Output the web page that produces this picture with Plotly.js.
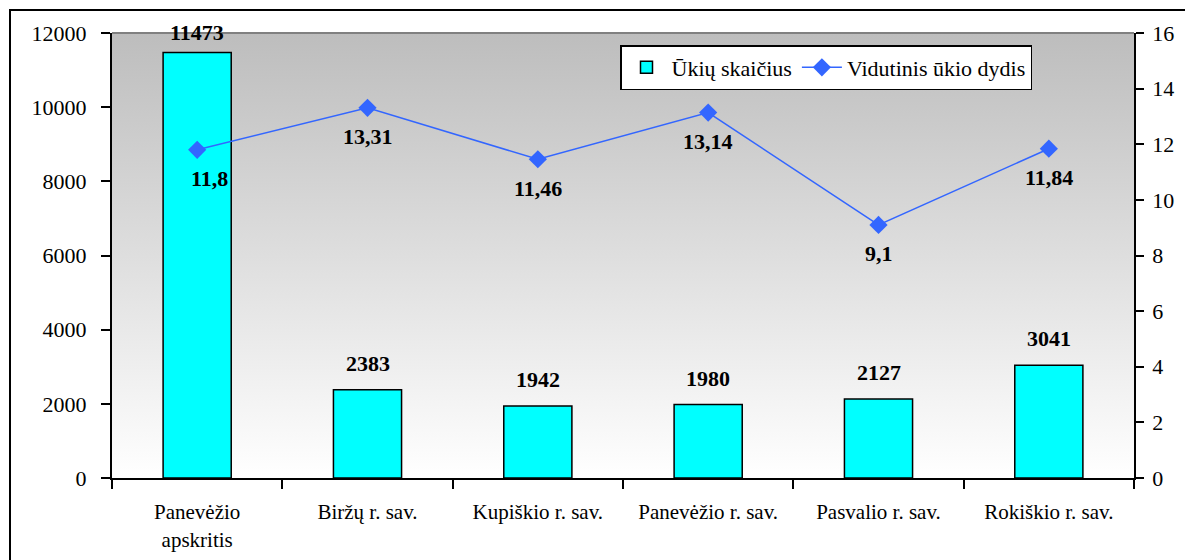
<!DOCTYPE html>
<html>
<head>
<meta charset="utf-8">
<script src="https://cdn.plot.ly/plotly-3.0.1.min.js"></script>
</head>
<body style="margin:0">
<div id="chart"></div>
<script>
const categories = ["Panevėžio<br>apskritis", "Biržų r. sav.", "Kupiškio r. sav.", "Panevėžio r. sav.", "Pasvalio r. sav.", "Rokiškio r. sav."];
const farmCounts = [11473, 2383, 1942, 1980, 2127, 3041];
const avgSize = [11.8, 13.31, 11.46, 13.14, 9.1, 11.84];
const avgSizeLabels = ["11,8", "13,31", "11,46", "13,14", "9,1", "11,84"];
const leftTicks = [0, 2000, 4000, 6000, 8000, 10000, 12000];
const rightTicks = [0, 2, 4, 6, 8, 10, 12, 14, 16];

const W = 1185, H = 560;
const M = {l: 112, r: 51, t: 33, b: 82};
const pw = W - M.l - M.r, ph = H - M.t - M.b;
const px = v => (v - M.l) / pw;
const py = v => (H - M.b - v) / ph;

const SERIF = "Liberation Serif";

const background = {
  type: 'scatter', x: [0, 1, 1, 0, 0], y: [0, 0, 1, 1, 0], xaxis: 'x', yaxis: 'y',
  mode: 'none', fill: 'toself',
  fillgradient: {type: 'vertical', start: 0, stop: 1, colorscale: [[0, '#ffffff'], [1, '#bdbdbd']]},
  showlegend: false, hoverinfo: 'skip'
};
const bars = {
  type: 'bar', x: categories, y: farmCounts, name: 'Ūkių skaičius', xaxis: 'x2', yaxis: 'y2',
  width: 0.4,
  marker: {color: '#00FFFF', line: {color: '#000000', width: 1.5}},
  hoverinfo: 'skip'
};
const line = {
  type: 'scatter', mode: 'lines+markers', x: categories, y: avgSize, xaxis: 'x2', yaxis: 'y3',
  name: 'Vidutinis ūkio dydis',
  line: {color: '#3366FF', width: 1.5},
  marker: {symbol: 'diamond', size: 14, color: '#3366FF'},
  hoverinfo: 'skip'
};

const annotations = [];
farmCounts.forEach((v, i) => {
  annotations.push({x: categories[i], y: v, xref: 'x2', yref: 'y2', text: '<b>' + v + '</b>',
    showarrow: false, yanchor: 'bottom', yshift: i === 0 ? 6 : 12,
    font: {family: SERIF, size: 22, color: 'black'}});
});
avgSize.forEach((v, i) => {
  annotations.push({x: categories[i], y: v, xref: 'x2', yref: 'y3', text: '<b>' + avgSizeLabels[i] + '</b>',
    showarrow: false, yanchor: 'middle', yshift: -29, xshift: i === 0 ? 12 : 0,
    font: {family: SERIF, size: 22, color: 'black'}});
});

const layout = {
  width: W, height: H,
  margin: M,
  paper_bgcolor: 'white', plot_bgcolor: 'rgba(0,0,0,0)',
  font: {family: SERIF, size: 21, color: 'black'},
  showlegend: true,
  legend: {orientation: 'h', x: px(1032), xanchor: 'right', y: py(45), yanchor: 'top',
    bgcolor: 'white', bordercolor: 'black', borderwidth: 1.5, itemwidth: 40,
    font: {family: SERIF, size: 22, color: 'black'}, traceorder: 'normal'},
  bargap: 0.6,
  xaxis: {range: [0, 1], visible: false, fixedrange: true},
  yaxis: {range: [0, 1], visible: false, fixedrange: true},
  xaxis2: {type: 'category', overlaying: 'x', side: 'bottom', showline: true, linecolor: 'black', linewidth: 2,
    ticks: 'outside', ticklen: 9, tickwidth: 1.5, tickcolor: 'black', tickson: 'boundaries',
    showgrid: false, zeroline: false, ticklabelstandoff: 14,
    tickfont: {family: SERIF, size: 21, color: 'black'}},
  yaxis2: {range: [0, 12000], overlaying: 'y', side: 'left', tickvals: leftTicks, ticktext: leftTicks.map(String),
    showline: true, linecolor: 'black', linewidth: 2, ticks: 'outside', ticklen: 9, tickwidth: 2, tickcolor: 'black',
    showgrid: false, zeroline: false, ticklabelstandoff: 10,
    tickfont: {family: SERIF, size: 22, color: 'black'}},
  yaxis3: {range: [0, 16], tickvals: rightTicks, ticktext: rightTicks.map(String), overlaying: 'y', side: 'right',
    showline: true, linecolor: 'black', linewidth: 1.5, ticks: 'outside', ticklen: 8, tickwidth: 1.5, tickcolor: 'black',
    showgrid: false, zeroline: false, ticklabelstandoff: 4,
    tickfont: {family: SERIF, size: 22, color: 'black'}},
  shapes: [
    {type: 'line', xref: 'paper', yref: 'paper', x0: 0, x1: 1, y0: 1, y1: 1, line: {color: '#808080', width: 2}},
    {type: 'rect', xref: 'paper', yref: 'paper', x0: px(10), x1: px(1200), y0: py(575), y1: py(10),
      line: {color: 'black', width: 2}, fillcolor: 'rgba(0,0,0,0)'}
  ],
  annotations: annotations
};

Plotly.newPlot('chart', [background, bars, line], layout, {displayModeBar: false});
</script>
</body>
</html>
